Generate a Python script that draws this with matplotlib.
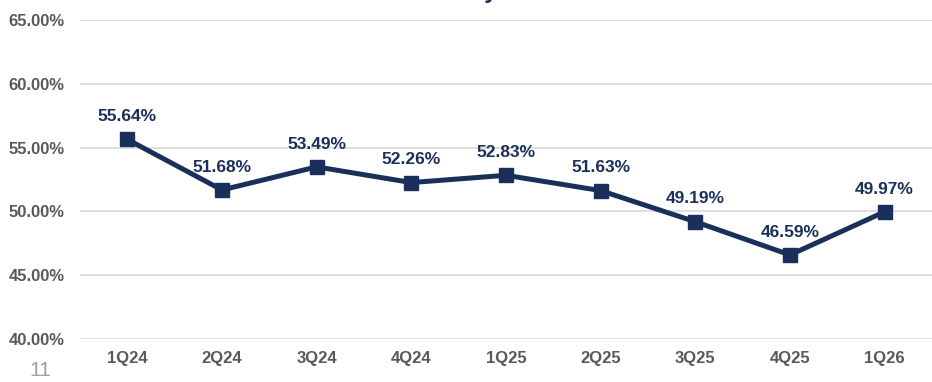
import matplotlib
matplotlib.use("Agg")
import matplotlib.pyplot as plt
from matplotlib.ticker import FuncFormatter

categories = ["1Q24", "2Q24", "3Q24", "4Q24", "1Q25", "2Q25", "3Q25", "4Q25", "1Q26"]
values = [55.64, 51.68, 53.49, 52.26, 52.83, 51.63, 49.19, 46.59, 49.97]
yticks = [40, 45, 50, 55, 60, 65]

plt.rcParams['font.family'] = ['Liberation Sans', 'DejaVu Sans']
navy = "#1B2F5B"
gray = "#595959"

fig = plt.figure(figsize=(9.32, 3.82), dpi=100)
ax = fig.add_axes([80/932, 1-339/382, 1-80/932, (339-20)/382])

x = list(range(len(categories)))
ax.plot(x, values, color=navy, lw=3.6, marker='s', ms=10, mfc=navy, mec=navy, zorder=3, clip_on=False)
for xi, v in zip(x, values):
    ax.annotate(f"{v:.2f}%", (xi, v), xytext=(0, 11), textcoords='offset points',
                ha='center', va='bottom', color=navy, fontsize=12.5, fontweight='bold')

ax.set_xlim(-0.5, len(categories) - 0.5)
ax.set_ylim(40, 65)
ax.set_yticks(yticks)
ax.yaxis.set_major_formatter(FuncFormatter(lambda v, p: f"{v:.2f}%"))
ax.set_xticks(x)
ax.set_xticklabels(categories)
ax.grid(axis='y', color='#D9D9D9', lw=1.2)
ax.set_axisbelow(True)
for s in ax.spines.values():
    s.set_visible(False)
ax.tick_params(axis='both', length=0, colors=gray, labelsize=12)
ax.tick_params(axis='y', pad=11)
ax.tick_params(axis='x', pad=9)
for lab in ax.get_xticklabels() + ax.get_yticklabels():
    lab.set_fontweight('bold')

fig.text(475/932, 1 + 2/382, "Efficiency Ratio", ha='center', va='baseline',
         color=navy, fontsize=17, fontweight='bold')
fig.text(40/932, 1 - 371/382, "11", ha='center', va='center', color='#A0A0A0', fontsize=15)

fig.savefig("out.png", dpi=100)
